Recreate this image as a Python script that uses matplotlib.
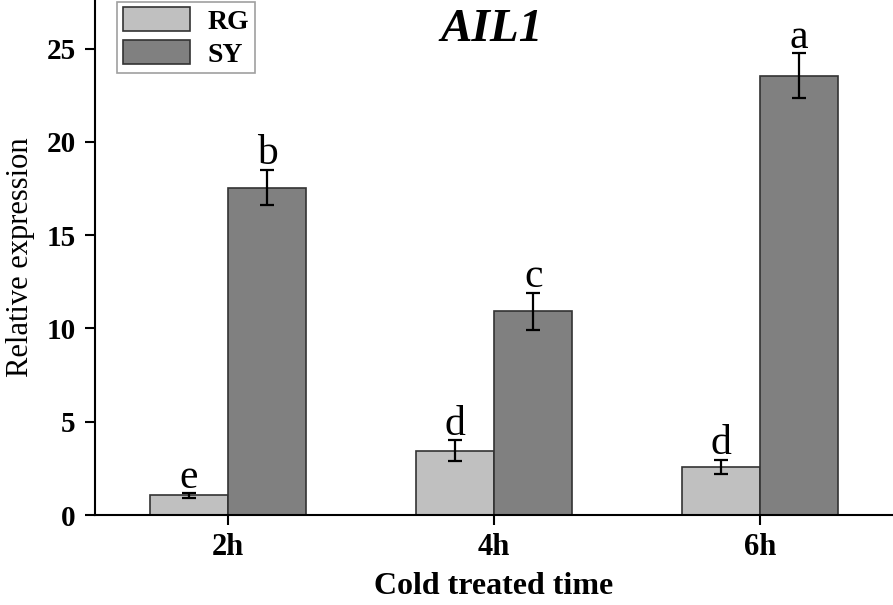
import matplotlib
matplotlib.use("Agg")
import matplotlib.pyplot as plt
import numpy as np

categories = ["2h", "4h", "6h"]
rg_values = [1.05, 3.45, 2.57]
rg_errors = [0.12, 0.55, 0.38]
sy_values = [17.55, 10.92, 23.55]
sy_errors = [0.95, 0.98, 1.2]
rg_letters = ["e", "d", "d"]
sy_letters = ["b", "c", "a"]

plt.rcParams['font.family'] = ['Liberation Serif', 'DejaVu Serif']

fig = plt.figure(figsize=(8.93, 6.05), dpi=100)
ax = fig.add_axes([95/893, 90/605, 798/893, 515/605])

x = np.arange(1, len(categories) + 1)
w = 0.295
ekw = dict(elinewidth=1.6, capthick=1.6, ecolor='black')
ax.bar(x - w/2, rg_values, w, yerr=rg_errors, color='#c0c0c0', edgecolor='#333333',
       linewidth=1.2, capsize=5, error_kw=ekw, label='RG')
ax.bar(x + w/2, sy_values, w, yerr=sy_errors, color='#808080', edgecolor='#333333',
       linewidth=1.2, capsize=5, error_kw=ekw, label='SY')

for xi, v, e, t in zip(x - w/2, rg_values, rg_errors, rg_letters):
    ax.annotate(t, (xi, v + e), xytext=(0, 4), textcoords='offset points',
                ha='center', va='baseline', fontsize=30)
for xi, v, e, t in zip(x + w/2, sy_values, sy_errors, sy_letters):
    ax.annotate(t, (xi, v + e), xytext=(0, 4), textcoords='offset points',
                ha='center', va='baseline', fontsize=30)

ax.set_xlim(0.5, 3.5)
ax.set_ylim(0, 27.6)
ax.set_xticks(x)
ax.set_xticklabels(categories, fontsize=22, fontweight='bold')
ax.set_yticks([0, 5, 10, 15, 20, 25])
ax.set_yticklabels(['0', '5', '10', '15', '20', '25'], fontsize=21, fontweight='bold')
ax.tick_params(axis='y', direction='out', length=7, width=1.5, pad=7)
ax.tick_params(axis='x', direction='out', length=7, width=1.5, pad=6)
for s in ['top', 'right']:
    ax.spines[s].set_visible(False)
for s in ['left', 'bottom']:
    ax.spines[s].set_linewidth(1.5)

ax.set_xlabel('Cold treated time', fontsize=23, fontweight='bold', labelpad=7)
ax.set_ylabel('Relative expression', fontsize=22, labelpad=8)

ax.text(0.497, 0.942, 'AIL1', transform=ax.transAxes, ha='center', va='center',
        fontsize=34, fontweight='bold', fontstyle='italic')

leg = ax.legend(loc='upper left', bbox_to_anchor=(0.028, 0.997),
                prop={'weight': 'bold', 'size': 20}, frameon=True, fancybox=False,
                edgecolor='#888888', handlelength=2.4, handleheight=0.94,
                borderpad=0.2, labelspacing=0.2, handletextpad=0.65, borderaxespad=0.0)
leg.get_frame().set_linewidth(1.2)

fig.savefig('out.png', dpi=100)
